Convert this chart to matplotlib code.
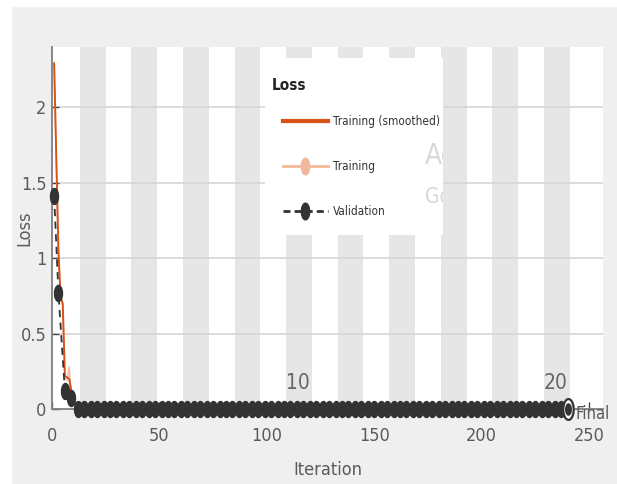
import numpy as np
import matplotlib
matplotlib.use("Agg")
import matplotlib.pyplot as plt
from matplotlib import font_manager
from matplotlib.path import Path
from matplotlib.patches import Rectangle
from matplotlib.transforms import Bbox, TransformedBbox

# вузький шрифт, якщо він є в системі
family = ['Liberation Sans', 'DejaVu Sans']
cond = [f for f in font_manager.fontManager.ttflist
        if f.stretch in ('condensed', 'semi-condensed', 'extra-condensed')
        and 'Sans' in f.name and 'Mono' not in f.name]
if cond:
    family = [cond[0].name] + family
    plt.rcParams['font.stretch'] = cond[0].stretch
plt.rcParams['font.family'] = family

# Дані
n_epochs = 20
iters_per_epoch = 12
train_iter = np.arange(1, 241)
train_smooth = [2.29, 1.68, 1.05, 0.74, 0.70, 0.22, 0.21, 0.20, 0.12, 0.07, 0.04, 0.02] + [0.01] * 228
train_raw = [2.30, 1.62, 1.02, 0.75, 0.68, 0.21, 0.19, 0.28, 0.08, 0.04, 0.02, 0.01] + [0.005] * 228
val_iter = [1] + list(range(3, 241, 3))
val_loss = [1.41, 0.77, 0.12, 0.07] + [0.003] * 77
epoch_labels = {10: "10", 20: "20"}
final_iter = 240

c_smooth = '#d95319'
c_raw = '#f2b89b'
c_val = '#333333'
c_tick = '#5a5a5a'

# еліптичний маркер (картинка стиснута по горизонталі)
t = np.linspace(0, 2 * np.pi, 40)
ellipse = Path(np.column_stack([0.25 * np.cos(t), 0.5 * np.sin(t)]), closed=True)

fig = plt.figure(figsize=(6.17, 4.84), dpi=100, facecolor='#efefef')
fig.patches.append(Rectangle((0, 0), 11 / 617, 1, transform=fig.transFigure, color='white', zorder=-1))
fig.patches.append(Rectangle((0, 1 - 6 / 484), 1, 6 / 484, transform=fig.transFigure, color='white', zorder=-1))

ax = fig.add_axes([52 / 617, 1 - 409 / 484, (603 - 52) / 617, (409 - 47) / 484])
ax.set_facecolor('white')

# смуги епох
for e in range(2, n_epochs + 1, 2):
    ax.axvspan(iters_per_epoch * (e - 1) + 1, iters_per_epoch * e + 1, color='#e6e6e6', lw=0, zorder=0)
for e, lab in epoch_labels.items():
    ax.text(iters_per_epoch * (e - 1) + 1, 0.17, lab, color='#666666', fontsize=15, ha='left', va='center')

for yv in [0.5, 1, 1.5, 2]:
    ax.axhline(yv, color='#d6d6d6', lw=1.2, zorder=1)

ax.plot(train_iter, train_raw, color=c_raw, lw=1, zorder=3)
ax.plot(train_iter, train_smooth, color=c_smooth, lw=1.4, zorder=4)
ax.plot(val_iter, val_loss, color=c_val, lw=1.3, ls=(0, (4, 3)), marker=ellipse,
        markersize=11.5, markerfacecolor=c_val, markeredgecolor=c_val, zorder=5, clip_on=False)
ax.plot([final_iter], [0], marker=ellipse, markersize=15, markerfacecolor='white',
        markeredgecolor=c_val, markeredgewidth=1.6, ls='none', zorder=6, clip_on=False)
ax.plot([final_iter], [0], marker=ellipse, markersize=8, color=c_val, ls='none', zorder=7, clip_on=False)
ax.text(final_iter + 3.5, -0.03, "Final", color=c_tick, fontsize=12, ha='left', va='center', clip_on=False)

ax.set_xlim(0, 256.5)
ax.set_ylim(0, 2.4)
ax.set_xticks([0, 50, 100, 150, 200, 250])
ax.set_yticks([0, 0.5, 1, 1.5, 2])
ax.set_yticklabels(["0", "0.5", "1", "1.5", "2"])
ax.tick_params(direction='in', length=5, width=1, colors='#444444', labelcolor=c_tick, labelsize=13)
ax.tick_params(axis='x', pad=13)
ax.tick_params(axis='y', pad=4)
for s in ['top', 'right']:
    ax.spines[s].set_visible(False)
for s in ['left', 'bottom']:
    ax.spines[s].set_color('#7f7f7f')
    ax.spines[s].set_linewidth(1.3)
ax.set_xlabel("Iteration", color=c_tick, fontsize=13)
ax.set_ylabel("Loss", color=c_tick, fontsize=13)
ax.xaxis.set_label_coords(0.5, -(470 - 409) / 362, transform=ax.transAxes)
ax.yaxis.set_label_coords(-(52 - 24) / 551, 0.5)
ax.xaxis.label.set_va('center')
ax.yaxis.label.set_va('center')

# легенда: біле поле, заголовок і записи
ax.add_patch(Rectangle((264.5 / 617, 1 - 235 / 484), (443 - 264.5) / 617, (235 - 58) / 484,
                       transform=fig.transFigure, facecolor='white', edgecolor='none', zorder=2))
fig.text(272 / 617, 1 - 85 / 484, "Loss", fontsize=11, fontweight='bold', color='#222222',
         ha='left', va='center', zorder=9)
h1, = ax.plot([], [], color=c_smooth, lw=3)
h2, = ax.plot([], [], color=c_raw, lw=2, marker=ellipse, markersize=12)
h3, = ax.plot([], [], color=c_val, lw=2, ls=(0, (2.5, 1.5)), marker=ellipse, markersize=12)
leg = ax.legend([h1, h2, h3], ["Training (smoothed)", "Training", "Validation"],
                loc='upper left', bbox_to_anchor=(283 / 617, 1 - 115 / 484), bbox_transform=fig.transFigure,
                borderaxespad=0, borderpad=0, handlelength=3.8, handletextpad=0.4,
                labelspacing=2.7, fontsize=8.5, frameon=False)
leg.set_zorder(8)
for txt in leg.get_texts():
    txt.set_color('#333333')

# водяний знак, обрізаний краєм легенди
clip = TransformedBbox(Bbox([[0, 58 / 484], [443 / 617, 1]]), fig.transFigure)
for label, ypx, fs in [("Ac", 156, 20), ("Go", 197, 15)]:
    wm = fig.text(425 / 617, 1 - ypx / 484, label, color='#d8d8d8', fontsize=fs,
                  ha='left', va='center', zorder=9)
    wm.set_clip_box(clip)
    wm.set_clip_on(True)

fig.savefig("out.png", dpi=100, facecolor=fig.get_facecolor())
